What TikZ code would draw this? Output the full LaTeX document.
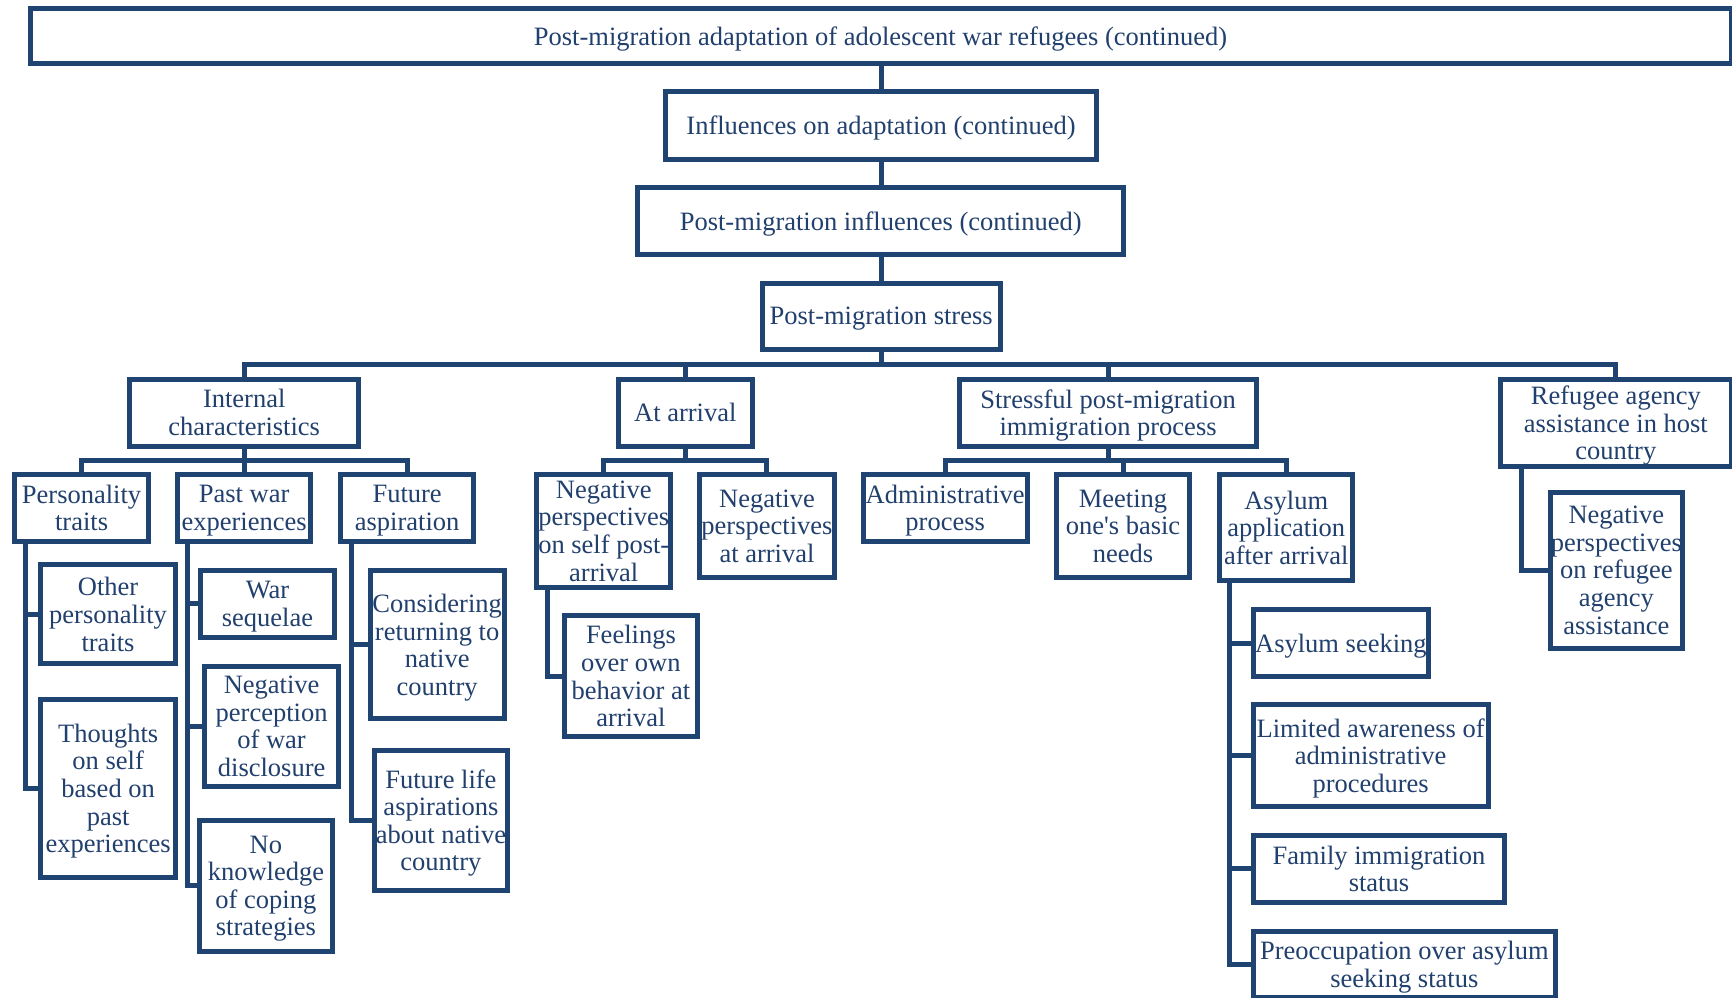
\documentclass[tikz,border=0pt]{standalone}
\usepackage{fontspec}
\setmainfont{Liberation Serif}
\definecolor{navy}{HTML}{1F4471}
\definecolor{navytext}{HTML}{22406D}
% a box given by the centre lines of its left, top, right and bottom borders
\newcommand\mkbox[6]{%
  \node[box, minimum width={(#4)-(#2)}, minimum height={(#5)-(#3)}]
    (#1) at ({((#2)+(#4))/2},{((#3)+(#5))/2}) {#6};}
\begin{document}
\begin{tikzpicture}[x=1pt,y=-1pt,
  box/.style={draw=navy, line width=5pt, text=navytext, inner sep=0pt,
    align=center, text depth=0pt, font=\fontsize{26.5}{27.6}\selectfont},
  conn/.style={draw=navy, line width=5pt}]
\fill[white] (0,0) rectangle (1732,998);
\useasboundingbox (0,0) rectangle (1732,998);
\clip (0,0) rectangle (1732,998);

% trunk
\mkbox{T}{30}{8.2}{1731}{63.3}{Post-migration adaptation of adolescent war refugees (continued)}
\mkbox{B2}{665.4}{91.7}{1096.7}{159}{Influences on adaptation (continued)}
\mkbox{B3}{637.7}{187.7}{1123.7}{254.5}{Post-migration influences (continued)}
\mkbox{PS}{762}{283.3}{1000.3}{349}{Post-migration stress}

% first level
\mkbox{IC}{129.8}{379}{358.6}{446.2}{Internal\\characteristics}
\mkbox{AA}{618.6}{379}{752}{446.2}{At arrival}
\mkbox{SP}{959.8}{379}{1256.3}{446.2}{Stressful post-migration\\immigration process}
\mkbox{RA}{1500.6}{379}{1731}{466.5}{Refugee agency\\assistance in host\\country}

% internal characteristics
\mkbox{PT}{14.6}{474.7}{148.6}{541}{Personality\\traits}
\mkbox{PW}{177.3}{474.7}{310.9}{541}{Past war\\experiences}
\mkbox{FA}{340.5}{474.7}{473.75}{541}{Future\\aspiration}
\mkbox{OP}{40.7}{564.7}{175.4}{663.8}{Other\\personality\\traits}
\mkbox{TS}{40.9}{699.5}{175.4}{877.2}{Thoughts\\on self\\based on\\past\\experiences}
\mkbox{WS}{200.5}{570.5}{334.5}{637.2}{War\\sequelae}
\mkbox{NP}{204.5}{666.2}{338.75}{786.5}{Negative\\perception\\of war\\disclosure}
\mkbox{NK}{199.1}{820}{332.7}{951.7}{No\\knowledge\\of coping\\strategies}
\mkbox{CR}{370.2}{570.5}{504.1}{718.8}{Considering\\returning to\\native\\country}
\mkbox{FL}{374.1}{750}{507.7}{890.2}{Future life\\aspirations\\about native\\country}

% at arrival
\mkbox{NS}{536.6}{474.7}{670.9}{587.2}{Negative\\perspectives\\on self post-\\arrival}
\mkbox{NA}{699.8}{474.7}{834.1}{577.7}{Negative\\perspectives\\at arrival}
\mkbox{FO}{564.5}{615.5}{697.3}{736.7}{Feelings\\over own\\behavior at\\arrival}

% immigration process
\mkbox{AP}{863.4}{474.7}{1027}{541}{Administrative\\process}
\mkbox{MB}{1056.25}{474.7}{1189.8}{577.7}{Meeting\\one\textquotesingle s basic\\needs}
\mkbox{AS}{1219.9}{474.7}{1352.6}{580.7}{Asylum\\application\\after arrival}
\mkbox{ASK}{1253.2}{609.8}{1428.6}{676.2}{Asylum seeking}
\mkbox{LA}{1253.2}{704.8}{1488.1}{806.5}{Limited awareness of\\administrative\\procedures}
\mkbox{FI}{1253.2}{835.5}{1504.7}{902.2}{Family immigration\\status}
\mkbox{PO}{1253.2}{931.5}{1555.5}{997}{Preoccupation over asylum\\seeking status}

% refugee agency
\mkbox{NR}{1550}{492.3}{1682.7}{648}{Negative\\perspectives\\on refugee\\agency\\assistance}

% bus levels
\coordinate (busA) at (0,364);
\coordinate (busB) at (0,460);

% trunk connectors
\draw[conn] (B2.north |- T.south) -- (B2.north);
\draw[conn] (B2.south) -- (B2.south |- B3.north);
\draw[conn] (PS.north |- B3.south) -- (PS.north);
\draw[conn] (PS.south) -- (PS.south |- busA);
\draw[conn] (IC.north) -- (IC.north |- busA) -- (RA.north |- busA) -- (RA.north);
\draw[conn] (AA.north) -- (AA.north |- busA);
\draw[conn] (SP.north) -- (SP.north |- busA);

% second-level buses
\draw[conn] (IC.south) -- (IC.south |- busB);
\draw[conn] (PT.north) -- (PT.north |- busB) -- (FA.north |- busB) -- (FA.north);
\draw[conn] (PW.north) -- (PW.north |- busB);
\draw[conn] (AA.south) -- (AA.south |- busB);
\draw[conn] (NS.north) -- (NS.north |- busB) -- (NA.north |- busB) -- (NA.north);
\draw[conn] (SP.south) -- (SP.south |- busB);
\draw[conn] (AP.north) -- (AP.north |- busB) -- (AS.north |- busB) -- (AS.north);
\draw[conn] (MB.north) -- (MB.north |- busB);

% side spines
\draw[conn] ([xshift=13pt]PT.south west) |- (OP.west);
\draw[conn] ([xshift=13pt]PT.south west) |- (TS.west);
\draw[conn] ([xshift=13pt]PW.south west) |- (WS.west);
\draw[conn] ([xshift=13pt]PW.south west) |- (NP.west);
\draw[conn] ([xshift=13pt]PW.south west) |- (NK.west);
\draw[conn] ([xshift=13.3pt]FA.south west) |- (CR.west);
\draw[conn] ([xshift=13.3pt]FA.south west) |- (FL.west);
\draw[conn] ([xshift=13.8pt]NS.south west) |- (FO.west);
\draw[conn] ([xshift=12.3pt]AS.south west) |- (ASK.west);
\draw[conn] ([xshift=12.3pt]AS.south west) |- (LA.west);
\draw[conn] ([xshift=12.3pt]AS.south west) |- (FI.west);
\draw[conn] ([xshift=12.3pt]AS.south west) |- (PO.west);
\draw[conn] ([xshift=23.4pt]RA.south west) |- (NR.west);
\end{tikzpicture}
\end{document}
